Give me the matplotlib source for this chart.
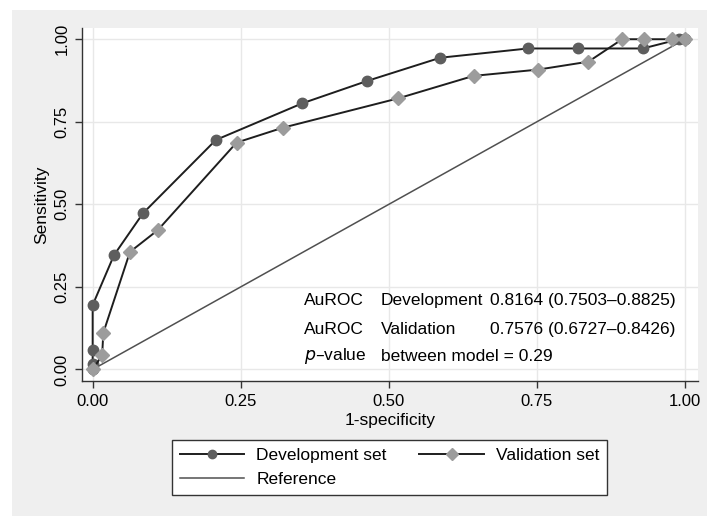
import matplotlib.pyplot as plt
from matplotlib.patches import Rectangle

plt.rcParams['font.family'] = ['Liberation Sans', 'DejaVu Sans']

# ROC points
dev_x = [0.0, 0.0, 0.0, 0.0, 0.036, 0.085, 0.208, 0.354, 0.464, 0.587, 0.735, 0.819, 0.929, 0.99, 1.0]
dev_y = [0.0, 0.016, 0.058, 0.195, 0.346, 0.473, 0.695, 0.806, 0.874, 0.944, 0.972, 0.972, 0.972, 1.0, 1.0]
val_x = [0.0, 0.016, 0.018, 0.063, 0.110, 0.243, 0.321, 0.516, 0.643, 0.752, 0.837, 0.894, 0.931, 0.978, 1.0]
val_y = [0.0, 0.043, 0.111, 0.356, 0.422, 0.687, 0.732, 0.821, 0.889, 0.908, 0.932, 1.0, 1.0, 1.0, 1.0]
ref_x = [0, 1]
ref_y = [0, 1]

ticks = [0, 0.25, 0.5, 0.75, 1.0]
tick_labels = ['0.00', '0.25', '0.50', '0.75', '1.00']

fig = plt.figure(figsize=(7.07, 5.16), dpi=100)
bg = Rectangle((12 / 707, 0), 1 - 12 / 707, 1 - 10 / 516,
               transform=fig.transFigure, facecolor='#efefef',
               edgecolor='none', zorder=-10)
fig.add_artist(bg)

ax = fig.add_axes([82 / 707, 1 - 381 / 516, (698 - 82) / 707, (381 - 28) / 516])
ax.set_facecolor('white')

ax.plot(ref_x, ref_y, color='#505050', lw=1.1, label='Reference', zorder=2)
ax.plot(dev_x, dev_y, color='#1e1e1e', lw=1.4, marker='o', ms=7.5,
        mfc='#5e5e5e', mec='#5e5e5e', label='Development set', zorder=3)
ax.plot(val_x, val_y, color='#1e1e1e', lw=1.4, marker='D', ms=7.5,
        mfc='#9c9c9c', mec='#9c9c9c', label='Validation set', zorder=4)

ax.set_xlim(-0.018, 1.022)
ax.set_ylim(-0.035, 1.034)
ax.set_xticks(ticks)
ax.set_xticklabels(tick_labels)
ax.set_yticks(ticks)
ax.set_yticklabels(tick_labels, rotation=90, va='center')
ax.tick_params(direction='out', length=5, width=1, color='#333333', labelsize=12, pad=4)
ax.grid(True, color='#e8e8e8', lw=1)
ax.set_axisbelow(True)
for s in ['top', 'right']:
    ax.spines[s].set_visible(False)
for s in ['left', 'bottom']:
    ax.spines[s].set_color('#333333')
    ax.spines[s].set_linewidth(1)

ax.set_xlabel('1-specificity', fontsize=12.5, labelpad=3)
ax.set_ylabel('Sensitivity', fontsize=12.5, labelpad=4)

# AuROC annotation
fs = 12.5
ax.text(0.357, 0.21, 'AuROC', fontsize=fs, va='center')
ax.text(0.486, 0.21, 'Development', fontsize=fs, va='center')
ax.text(0.670, 0.21, '0.8164 (0.7503\u20130.8825)', fontsize=fs, va='center')
ax.text(0.357, 0.122, 'AuROC', fontsize=fs, va='center')
ax.text(0.486, 0.122, 'Validation', fontsize=fs, va='center')
ax.text(0.670, 0.122, '0.7576 (0.6727\u20130.8426)', fontsize=fs, va='center')
ax.text(0.357, 0.04, '$p$\u2013value', fontsize=fs, va='center')
ax.text(0.486, 0.04, 'between model = 0.29', fontsize=fs, va='center')

h, l = ax.get_legend_handles_labels()
order = [1, 0, 2]
leg = fig.legend([h[i] for i in order], [l[i] for i in order], ncol=2,
                 loc='center', bbox_to_anchor=(389.5 / 707, 1 - 467.5 / 516),
                 fontsize=12.5, frameon=True, fancybox=False, edgecolor='#333333',
                 facecolor='white', framealpha=1,
                 handlelength=3.7, handletextpad=0.7, columnspacing=1.9,
                 labelspacing=0.55, borderpad=0.45, markerscale=0.8)
leg.get_frame().set_linewidth(1)

fig.savefig('out.png', dpi=100)
